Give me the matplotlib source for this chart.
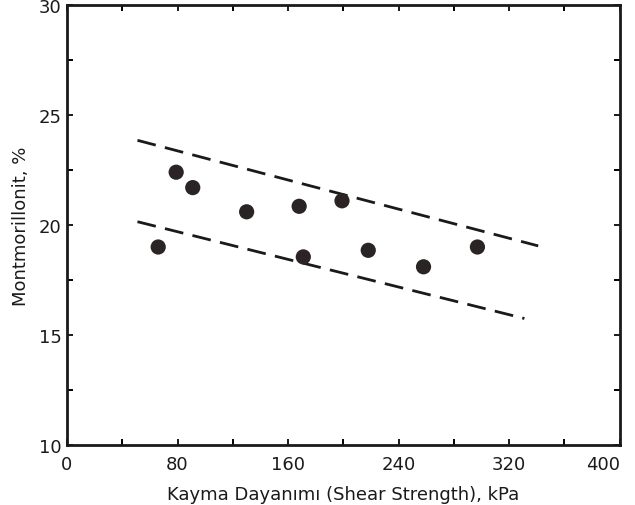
import matplotlib.pyplot as plt
from matplotlib.ticker import MultipleLocator

# Olculen noktalar (kayma dayanimi kPa, montmorillonit %)
shear_strength = [66, 79, 91, 130, 168, 171, 199, 218, 258, 297]
montmorillonit = [19.0, 22.4, 21.7, 20.6, 20.85, 18.55, 21.1, 18.85, 18.1, 19.0]

# Kesikli sinir cizgileri
upper_x = [51, 341]
upper_y = [23.85, 19.05]
lower_x = [51, 331]
lower_y = [20.15, 15.75]

x_ticks = [0, 80, 160, 240, 320, 400]
y_ticks = [10, 15, 20, 25, 30]

fig = plt.figure(figsize=(6.35, 5.06), dpi=100)
ax = fig.add_axes([0.1055, 0.1186, 0.8705, 0.8695])

ax.scatter(shear_strength, montmorillonit, s=120, c='#2b2424', edgecolors='none', zorder=3)

for xs, ys in [(upper_x, upper_y), (lower_x, lower_y)]:
    line, = ax.plot(xs, ys, color='#1a1a1a', lw=2)
    line.set_dashes((6.8, 3.4))

ax.set_xlim(0, 400)
ax.set_ylim(10, 30)
ax.set_xticks(x_ticks)
ax.set_yticks(y_ticks)
ax.xaxis.set_minor_locator(MultipleLocator(40))
ax.yaxis.set_minor_locator(MultipleLocator(2.5))

ax.tick_params(which='both', direction='in', top=True, right=True,
               labeltop=False, labelright=False, width=1.4, length=4)
ax.tick_params(axis='x', which='major', labelsize=13, pad=7, colors='#1a1a1a')
ax.tick_params(axis='y', which='major', labelsize=13, pad=4, colors='#1a1a1a')
for side in ax.spines.values():
    side.set_linewidth(2)
    side.set_color('#1a1a1a')

# o "400" cai dentro da figura
ax.get_xticklabels()[-1].set_horizontalalignment('right')

ax.set_xlabel('Kayma Dayanımı (Shear Strength), kPa', fontsize=13, color='#1a1a1a', labelpad=9)
ax.set_ylabel('Montmorillonit, %', fontsize=13, color='#1a1a1a', labelpad=6)

plt.savefig('out.png', dpi=100)
